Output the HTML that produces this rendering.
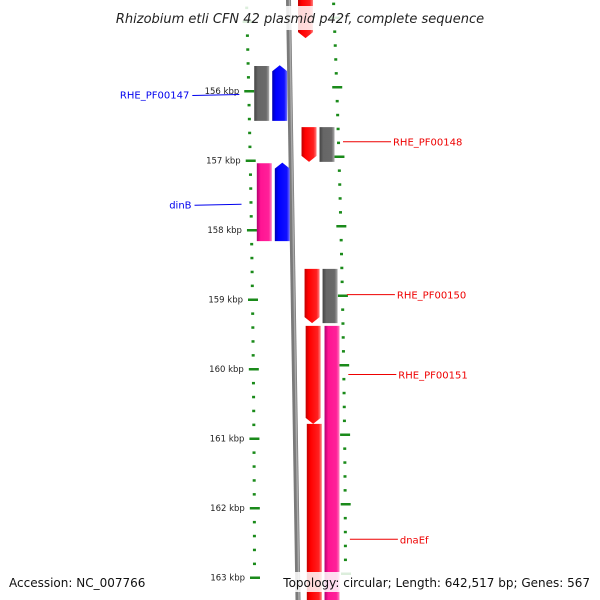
<!DOCTYPE html>
<html><head><meta charset="utf-8">
<style>
html,body{margin:0;padding:0;background:#fff;}
svg{display:block;font-family:"DejaVu Sans","Liberation Sans",sans-serif;}
</style></head>
<body>
<svg id="map" width="600" height="600" viewBox="0 0 600 600" xmlns="http://www.w3.org/2000/svg">
<defs>
<linearGradient id="gRed" x1="0" x2="1"><stop offset="0" stop-color="#c00000"/><stop offset="0.25" stop-color="#ff0000"/><stop offset="0.8" stop-color="#ff2020"/><stop offset="1" stop-color="#ff8080"/></linearGradient>
<linearGradient id="gBlue" x1="0" x2="1"><stop offset="0" stop-color="#0000b0"/><stop offset="0.25" stop-color="#0000ff"/><stop offset="0.8" stop-color="#1010ff"/><stop offset="1" stop-color="#7070ff"/></linearGradient>
<linearGradient id="gGray" x1="0" x2="1"><stop offset="0" stop-color="#444"/><stop offset="0.25" stop-color="#666"/><stop offset="0.8" stop-color="#6a6a6a"/><stop offset="1" stop-color="#aaa"/></linearGradient>
<linearGradient id="gPink" x1="0" x2="1"><stop offset="0" stop-color="#b00070"/><stop offset="0.25" stop-color="#ff1493"/><stop offset="0.8" stop-color="#ff2099"/><stop offset="1" stop-color="#ff80c0"/></linearGradient>
</defs>
<path d="M288.5,0 Q293.25,300 298,600" stroke="#7a7a7a" stroke-width="5" fill="none"/>
<path d="M289.5,0 Q294.25,300 299,600" stroke="#aaa" stroke-width="1.5" fill="none"/>
<g id="ticks"></g>
<g id="features"></g>
<g id="labels"></g>
<rect x="100" y="6" width="400" height="24" fill="#fff" opacity="0.85"/>
<text x="300" y="23" text-anchor="middle" font-size="13" font-style="italic" fill="#222">Rhizobium etli CFN 42 plasmid p42f, complete sequence</text>
<rect x="5" y="572" width="150" height="20" fill="#fff" opacity="0.85"/>
<rect x="280" y="572" width="315" height="20" fill="#fff" opacity="0.85"/>
<text x="9" y="587" font-size="12" fill="#111">Accession: NC_007766</text>
<text x="590" y="587" text-anchor="end" font-size="12" fill="#111">Topology: circular; Length: 642,517 bp; Genes: 567</text>
</svg>
<script>
const tickKbp = [156,157,158,159,160,161,162,163];
const featStart = [154.6, 155.64, 155.63, 156.52, 156.52, 157.04, 157.03, 158.56, 158.56, 159.38, 159.38, 160.79];
const featEnd   = [155.24, 156.43, 156.43, 157.02, 157.02, 158.16, 158.16, 159.34, 159.34, 160.79, 163.5, 163.5];
const featLane  = [2, 0, 1, 2, 3, 0, 1, 2, 3, 2, 3, 2];
const featType  = ['red','gray','blue','red','gray','pink','blue','red','gray','red','pink','red'];
const featDir   = [1, 0, -1, 1, 0, 0, -1, 1, 0, 1, 0, 0];
const labelText = ['RHE_PF00147','dinB','RHE_PF00148','RHE_PF00150','RHE_PF00151','dnaEf'];
const labelKbp  = [156.05, 157.63, 156.73, 158.93, 160.08, 162.45];
const labelSide = [-1, -1, 1, 1, 1, 1];

const NS = 'http://www.w3.org/2000/svg';
const pxPerKbp = 69.5;
function yOf(k){ return 91 + (k-156)*pxPerKbp; }
function ease(y){ const t=Math.min(Math.max(y,0),600)/600; return 1-Math.pow(1-t,2); }
function leftX(y){ return 245 + 8*ease(y); }
function rightX(y){ return 332 + 12*ease(y); }
function bb(y){ return 288.5 + 9.5*ease(y); }
const laneOff = [-37, -19, 9, 27];
const fills = {red:'url(#gRed)',gray:'url(#gGray)',blue:'url(#gBlue)',pink:'url(#gPink)'};
function mk(tag, attrs, parent){ const e=document.createElementNS(NS,tag); for(const k in attrs) e.setAttribute(k,attrs[k]); parent.appendChild(e); return e; }

const tg = document.getElementById('ticks');
for(let n=-15;n<=40;n++){
  const k=155+n*0.2;
  const y=yOf(k); if(y<-2||y>602) continue;
  const major = (n%5===0);
  const xl=leftX(y), xr=rightX(y-4);
  const a = mk('rect',{x:major?xl-3:xl, y:y-1, width:major?10:3, height:2.5, fill:'#1a8a1a'},tg);
  
  
  const b = mk('rect',{x:major?xr-3:xr, y:y-5, width:major?10:3, height:2.5, fill:'#1a8a1a'},tg);
  
  
}
tickKbp.forEach(k=>{
  const y=yOf(k);
  const t = mk('text',{x:leftX(y)-8, y:y+3, 'text-anchor':'end','font-size':'8.5',fill:'#222'},tg);
  
  
  t.textContent = k+' kbp';
});

const fg = document.getElementById('features');
featStart.forEach((s,i)=>{
  const y0=Math.max(yOf(s),-5), y1=Math.min(yOf(featEnd[i]),605);
  const x=bb((y0+y1)/2)+laneOff[featLane[i]], w=15, h=6;
  let d;
  if(featDir[i]===1) d=`M${x},${y0} L${x+w},${y0} L${x+w},${y1-h} L${x+w/2},${y1} L${x},${y1-h} Z`;
  else if(featDir[i]===-1) d=`M${x},${y0+h} L${x+w/2},${y0} L${x+w},${y0+h} L${x+w},${y1} L${x},${y1} Z`;
  else d=`M${x},${y0} L${x+w},${y0} L${x+w},${y1} L${x},${y1} Z`;
  const p = mk('path',{d:d, fill:fills[featType[i]]},fg);
  
  
});

const lg = document.getElementById('labels');
labelText.forEach((txt,i)=>{
  const y=yOf(labelKbp[i]);
  const left = labelSide[i]<0;
  const col = left?'#0000ee':'#ee0000';
  const lx1 = left? leftX(y)-8 : rightX(y)+6;
  const lx2 = left? lx1-47 : lx1+48;
  const l = mk('line',{x1:lx1,y1:y,x2:lx2,y2:y+(left?1:0),stroke:col,'stroke-width':1},lg);
  
  
  const t = mk('text',{x:left?lx2-3:lx2+2,y:y+4,'text-anchor':left?'end':'start','font-size':'10',fill:col},lg);
  
  
  t.textContent = txt;
});
</script>
</body></html>
